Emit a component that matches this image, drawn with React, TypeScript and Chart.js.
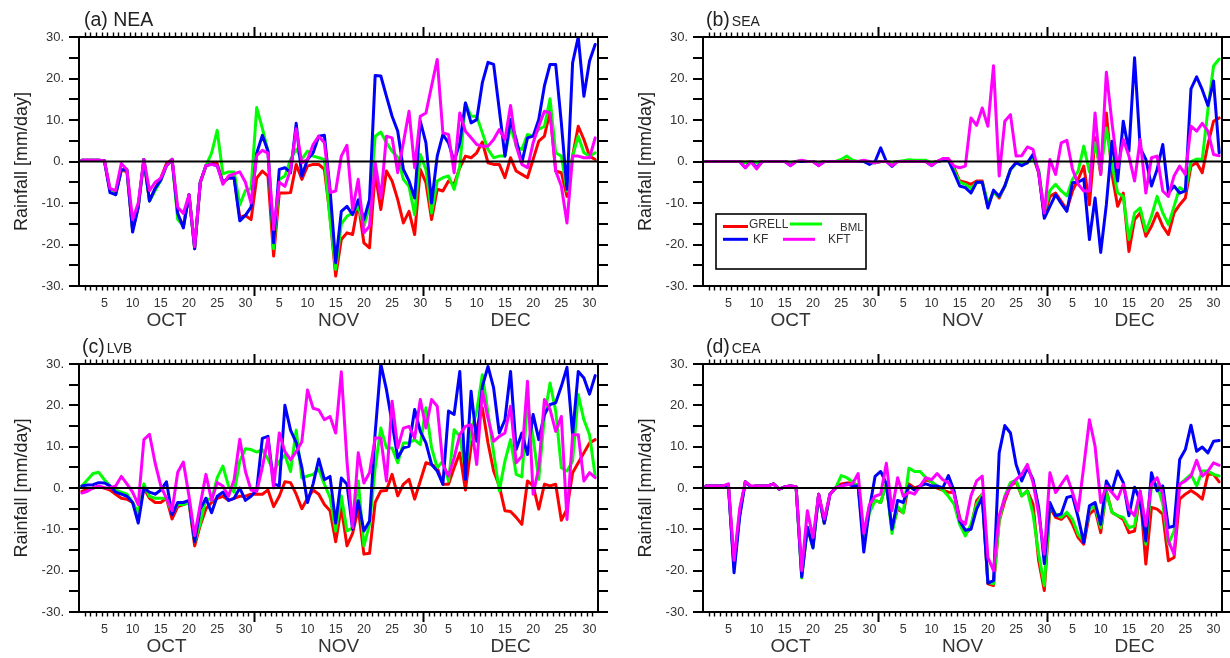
import React, { useEffect, useRef } from "react";
import { Chart, registerables } from "chart.js";

Chart.register(...registerables);

// ---------- axis / label data ----------
const months = ["OCT", "NOV", "DEC"];
const monthStart = [0, 31, 61];
const monthLength = [31, 30, 31];
const dayLabels = [5, 10, 15, 20, 25, 30];
const yTicks = [30, 20, 10, 0, -10, -20, -30];
const seriesNames = ["GRELL", "BML", "KF", "KFT"];
const seriesColors = ["#ff0000", "#00ff00", "#0000ff", "#ff00ff"];

// ---------- (a) NEA ----------
const neaGrell = [0.3,0.3,0.3,0.3,0.2, -7,-8,-2,-2.5,-16.5, -11,0.5,-9.5,-6.5,-4, -0.5,0.5,-13,-15.5,-8, -21,-5,-1,-0.5,-0.5, -5,-4,-4,-13.5,-13, -14,-4,-2.3,-3.5,-22.8, -7.6,-7.6,-7.5,-0.7,-4.3, -1.1,-0.7,-0.7,-1.9,-13.2, -27.6,-18.8,-17.2,-17.6,-10, -19.6,-20.8,-2.7,-11.6,-2.3, -4.7,-9.2,-14.8,-12,-17.6, -1.9,-5.1,-14,-6.7,-7.1, -4.7,-5.5,-1.5,1.3,0.9, 2.1,4.7,-0.3,-0.7,-0.7, -3.9,0.9,-2.3,-3.1,-3.9, 0.5,4.9,6.1,12.1,-2.3, -2.7,-8.4,1.3,8.5,5.3, 1.3,0.5];
const neaBml = [0.3,0.3,0.3,0.3,0.2, -7,-8,-2,-2,-16.5, -11,0.5,-9.5,-7,-4.5, -1,0.5,-14,-15.5,-8, -21,-5,-1,2,7.5, -3,-2.5,-2.5,-10.5,-7, -6.5,13,8,2.5,-21, -4.3,-3.5,0.5,3,0.5, 2.5,1.3,0.9,0.5,-14, -26,-15,-13.2,-12.4,-10.8, -15.6,-10.8,6.1,7.1,4.5, 2.5,1,-4.3,-6,-12.8, 1.7,-1.9,-12.4,-4.7,-3.9, -3.5,-6.7,-1.1,14.1,10.9, 10.9,6.9,2.9,0.9,1.3, 1.3,8.5,3.7,2.9,6.5, 6.1,7.7,8.5,15.1,2.1, 1.3,-7.1,1.3,6.1,2.1, 1.3,2.1];
const neaKf = [0.3,0.3,0.3,0.3,0.2, -7.5,-8,-2,-2,-17, -11,0.5,-9.5,-6.5,-4.5, -1,0.5,-12.5,-16,-8, -21,-5,-1,-0.7,-1, -5,-4,-4,-14.3,-13, -11,2,6.3,2.5,-19.6, -1.9,-1.5,-2.7,9.2,-3.5, 0.5,2.1,6.1,6.3,-6.7, -24.4,-12,-10.8,-12.8,-9.2, -14,-9.2,20.7,20.6,15.7, 10.9,7.3,-1.9,-4.7,-8.8, 9.7,4.5,-10,1.3,6.5, 4.5,0,4.5,14.1,9.3, 10.1,19,23.9,23.4,12.5, 1.3,10.1,5.3,-0.3,5.7, 6.1,10.1,18.2,23.4,23.4, 9.3,-6.7,23.8,30,15.7, 24.2,28.2];
const neaKft = [0.3,0.3,0.3,0.3,0.2, -6.5,-7,-0.5,-2,-14, -10,0.5,-7,-5,-4, -1,0.5,-11,-12.5,-8, -20.5,-5,-1,-0.7,-1, -5.5,-3.5,-3,-2.5,-5, -10,1.5,2.7,2,-16.4, -5,-6,-2,7.9,-0.3, 0.5,4.1,6.1,4.5,-7.5, -7.1,1.3,3.9,-11.6,-4.3, -17.2,-15.6,-0.3,-8.8,6.1, 5.7,-2.7,4.5,12.1,-1.5, 10.9,11.7,18.2,24.6,6.9, 6.5,-2.7,11.7,7.3,5.7, 4.1,3.7,3.7,5.3,7.7, 5.3,13.5,3.7,-0.7,-1.5, 4.5,8.5,12.1,11.7,-2.3, -5.9,-14.8,1.3,1.3,0.9, 0.9,5.7];

// ---------- (b) SEA ----------
const seaGrell = [0,0,0,0,0, 0,0,-0.2,0,-0.3, 0,0,0,0,0, -0.3,0,0,0,0, -0.3,0,0,0,0, 0.3,0,0,0,-0.2, -0.3,0,0,-0.3,0, 0,0.2,0,0,0, -0.3,0,0.3,0.3,-1.5, -4.7,-5,-5.5,-4.7,-4.7, -10.8,-7.1,-8.8,-5.9,-1.9, -0.3,-0.7,-0.3,1.3,-2.7, -13.2,-8.4,-7.6,-9.6,-11.6, -7.1,-4.3,-1.1,-10.4,5.7, -3.1,11.7,-3.1,-10.8,-7.6, -21.7,-14,-12.4,-18,-15.6, -12.4,-15.6,-17.6,-12.4,-10.4, -8.8,-1.1,-0.3,-2.7,4.1, 9.7,10.5];
const seaBml = [0,0,0,0,0, 0,0,-0.3,0,-0.3, 0,0,0,0,0, -0.5,0,0.2,0,0, -0.5,0,0,0,0.5, 1.3,0.3,0,0.2,-0.3, -0.3,0,0,-0.3,0, 0.2,0.4,0.3,0.3,0.3, -0.3,0,0.3,0.3,-2, -5,-5.5,-6.5,-5,-5, -10,-7.5,-8.5,-6,-2, -0.5,-0.5,-0.3,0.8,-2, -12,-7,-5.5,-7.1,-8.3, -4.3,-2.3,3.7,-2.5,4.5, -2.3,8.1,-0.7,-7.6,-8.4, -18.8,-12.4,-11.2,-16.8,-13.2, -8.4,-12.4,-15.2,-10.8,-6.3, -7.1,0,0.6,0.5,12.5, 23,24.7];
const seaKf = [0,0,0,0,0, 0,0,-1.5,0,-1.5, 0,0,0,0,0, -1,0,0,0,0, -1,0,0,0,0, 0,0,0,0,-0.7, 0,3.3,0,-1.2,0, 0,0,0,0,0, -1,0,0.3,0.3,-2.7, -5.9,-6.3,-7.6,-5,-5, -11.2,-6.9,-8.4,-5.9,-1.9, -0.3,-1,-0.3,1.7,-2.5, -13.7,-10.8,-8,-10.1,-12, -5.1,-5,-4.2,-18.8,-8.8, -21.9,-10.4,4.9,-4.7,9.7, 2.5,25,3.3,0.5,-5.9, -1.9,4.1,-7.6,-5.9,-7.6, -7.1,17.5,20.4,17.3,13.5, 19.4,2.1];
const seaKft = [0,0,0,0,0, 0,0,-1.5,0,-1.8, 0,0,0,0,0, -1,0,0.3,0,0, -1,0,0,0,0, 0,0,0,0.3,0, -0.3,0,0,-1,0, 0,0,0,0,0, -1,0,0.7,0.7,-1.1, -1.5,-1.1,10.5,8.7,12.9, 8.5,23.1,-3.5,9.7,11.3, 1.3,1.4,3.5,2.9,-2.7, -12.4,0.5,-3.1,4.5,5.1, -1.9,-5.5,-7.1,-7.1,11.7, -3.1,21.5,9.3,-1.5,5.3, 1.3,-4.7,5.3,-7.6,0.9, 1.3,-7.1,-8.4,-3.5,-1.1, -3.1,8.5,7.3,9.2,7.3, 1.7,1.4];

// ---------- (c) LVB ----------
const lvbGrell = [-0.8,-0.3,0,0.3,0, -0.5,-1.5,-2.5,-2.7,-3.5, -6.5,0,-2.5,-3.5,-3.5, -2.5,-7.5,-4.5,-4,-3.5, -14,-9,-5,-3.5,-2.5, -2,-3,-2.5,-2,-2, -1.5,-1.5,-1.5,-0.5,-4.5, -2,1.5,1.3,-1.5,-5, -2.5,-0.5,-1.5,-4,-5.5, -13,-4.7,-14,-11,-5, -16,-15.8,-3.5,-0.7,-0.6, 3.3,-1.9,0.9,2.1,-2.7, 1.7,6.1,5.7,4.9,0.9, 0.9,4.9,8.5,-0.5,10.1, 14.5,19.4,10.9,4.1,0.5, -5.5,-5.7,-7.1,-8.8,1.7, 0.5,-5.1,0.9,0.5,0.9, -7.8,-5.1,3.7,6.1,8.5, 10.9,11.7];
const lvbBml = [0.5,2,3.5,3.8,2, 0.5,-0.5,-1,-1.5,-3.5, -6,1,-2,-2.5,-2.5, -2.5,-6,-4,-4,-3.5, -13,-8.5,-2.5,-3,2.5, 5.3,0.5,-1,6.5,9.5, 9.3,8.7,9.3,7,4, 6.4,8,4,14,2.4, 2.9,3.3,4.5,0.9,-2.3, -10.4,-1.9,-10.4,-9.6,1.7, -14,-8.8,4.9,14.5,9.7, 9.7,6.1,10.9,10.9,11.7, 10.5,19.4,9.7,4.9,6.5, 1.7,14.1,12.5,4.1,13.7, 18.6,27.4,18.2,8.5,-0.7, 6.5,11.7,3.3,2.7,20.6, 12.1,2.1,17.3,25.4,18.6, 4.9,4.1,6.5,22.6,16.5, 12.9,2.9];
const lvbKf = [0.5,0.7,0.8,1.3,1.2, 0.5,-1,-1.5,-2,-3.5, -8.5,0,-1,-1.5,-0.5, 1.5,-6.5,-3.5,-3.5,-3, -13,-5,-2.5,-6,-2, -1,-3,-2.5,0,-3, -2,-0.5,12,12.5,1, 0.5,20,14,11,5, -3.5,1,7,2,2.8, -8.5,2.4,0.9,-10,-3.1, -10.4,-8,13.3,30,23.8, 15.7,7.3,9.7,10.1,19, 13.7,10.9,5.7,4.1,0.9, 18.6,17.8,28.2,2.1,23.4, 11.3,24.6,29.4,24.2,13.3, 16.5,28.2,9.3,13.3,8.1, 17.8,11.7,17.8,20.2,20.6, 24.6,29.2,12.9,28.2,26.6, 22.7,27.2];
const lvbKft = [-1.2,-0.8,0,0.5,0, 0,0.5,2.8,1,-1, -4,11.7,13,6,0.5, -2.5,-5.5,3.8,6.3,-2, -11.5,-4,3.3,-3,1.3, 0.5,-2,2,11.8,4, -0.5,-0.8,5,12,0, 13.3,8.8,6.8,8.8,11.2, 23.7,19.3,18.9,16.5,17.3, 13.3,28.1,6.5,-9.6,8.5, 1.2,3.7,12.1,12.1,1.7, 21,9.7,14.5,14.9,12.1, 21.4,14.5,21.4,19.8,5.7, 2.9,7.3,12.9,14.9,15.3, 5.7,23.4,16.9,11.3,12.5, 13.3,19.8,6.1,7.7,25.8, -1.5,4.9,21.4,19,13.7, 17.3,-7.6,12.9,12.9,1.7, 3.7,2.5];

// ---------- (d) CEA ----------
const ceaGrell = [0.5,0.5,0.5,0.5,0.7, -19,-6,1.5,0.3,0.5, 0.5,0.5,1,-0.3,0.3, 0.5,0.3,-21,-9.5,-14, -1.5,-8.5,-1.5,0,1, 1.2,1.3,0.5,-12,-4.5, -3,-3.5,1,-10,-5, -6,1,0,0.5,2, 1.5,0,-0.5,-1,-1.1, -7.1,-11.2,-9.6,-3.1,-1.5, -23.2,-23.6,-8,-3.1,0.5, 1.5,-1.9,-0.7,-3.9,-17.6, -24.8,-4.7,-7.1,-7.6,-6.3, -8.8,-12,-13.6,-6.3,-5.1, -10.8,-0.7,-5.9,-6.7,-7.6, -10.8,-10.4,-1.5,-18.4,-4.7, -5.1,-6.3,-17.6,-16.8,-2.7, -1.5,-0.6,-1.5,-2.7,3.3, 3.3,1.5];
const ceaBml = [0.5,0.5,0.5,0.5,0.7, -19,-6.5,1.5,0.3,0.5, 0.5,0.5,1,-0.3,0.3, 0.5,0.3,-21.8,-9.5,-14.5, -1.5,-8.5,-1.5,0,3, 2.5,1.5,0.5,-13,-6, -3,-3.5,1,-11,-4.5, -6,4.8,4,4,2.5, 1.5,0.5,-0.5,-2,-3.9, -8.8,-11.6,-8.8,-3.9,-1.5, -22.8,-23.2,-8,-1.9,1.3, 1.9,-1.9,-0.7,-6.3,-16, -23.6,-3.9,-6.3,-7.1,-5.9, -7.6,-11.2,-12.8,-5.1,-4.3, -9.6,-1.1,-5.9,-6.7,-7.1, -9.6,-9.2,-0.7,-13.6,0.5, 0.9,-3.9,-13.6,-10.4,0.9, 2.1,3.3,0.5,4.1,4.1, 3.3,2.9];
const ceaKf = [0.5,0.5,0.5,0.5,0.7, -20.5,-7,1.5,0.3,0.5, 0.5,0.5,1,-0.3,0.3, 0.5,0.3,-21.5,-9.5,-14.5, -1.5,-8.5,-1.5,0,0.5, 1,0.5,0.5,-15.5,-5, 2.8,4,1,-10,-3, -3.5,0.5,-0.5,0.5,1, 0.5,0.5,0,3,-0.7, -8,-10.2,-10,-5.1,-2.3, -23,-22.4,8.5,15.1,13.3, 5.7,1.7,4.9,2.1,-4.7, -18.3,-3.5,-6.7,-6.3,-2.3, -1.9,-7.1,-13.2,-4.3,-3.5, -8.8,1.7,-0.7,4.1,1.3, -6.7,0.2,-3.1,-12.8,3.7, -0.7,0.5,-9.6,-9.2,6.9, 9.3,15.2,8.9,9.9,8.5, 11.3,11.5];
const ceaKft = [0.5,0.5,0.5,0.5,1, -17.5,-5,1.5,0.5,0.5, 0.5,0.5,1,-0.3,0.3, 0.5,0.3,-20,-5.5,-12, -1.5,-7.5,-1.5,0,0.5, 0.8,1,3.5,-11,-4, -2,-1.5,6,-5.5,2.5, -2,-1,-1.5,0.5,2.5, 2,3.5,2,1.3,-1.5, -7.6,-8.8,-1.9,1.7,2.9, -16.8,-20,-6.7,-2.3,0.5, 2.1,3.3,5.7,1.3,-6.3, -16,3.7,-1.1,0.9,2.9, -1.1,-5.5,5.3,16.5,10.1, -3.5,0.5,-1.1,-2.7,0.9, -5.1,-6.7,-0.7,-9.2,0.9, 2.5,-1.5,-12.8,-16,0.9, 1.7,2.9,6.7,2.9,4.1, 6.1,5.5];

// ---------- presentation ----------
const FONT = '"Liberation Sans", Arial, Helvetica, sans-serif';
const CANVAS_W = 615;
const CANVAS_H = 329;

const panels = [
  { tag: "(a)", region: "NEA", bigRegion: true, series: [neaGrell, neaBml, neaKf, neaKft], legend: false, x: 0, y: 0, pad: { left: 79, right: 17, top: 37, bottom: 43 } },
  { tag: "(b)", region: "SEA", bigRegion: false, series: [seaGrell, seaBml, seaKf, seaKft], legend: true, x: 615, y: 0, pad: { left: 88, right: 8, top: 37, bottom: 43 } },
  { tag: "(c)", region: "LVB", bigRegion: false, series: [lvbGrell, lvbBml, lvbKf, lvbKft], legend: false, x: 0, y: 329, pad: { left: 79, right: 17, top: 35, bottom: 46 } },
  { tag: "(d)", region: "CEA", bigRegion: false, series: [ceaGrell, ceaBml, ceaKf, ceaKft], legend: false, x: 615, y: 329, pad: { left: 88, right: 8, top: 35, bottom: 46 } },
];

function line(ctx: CanvasRenderingContext2D, x1: number, y1: number, x2: number, y2: number) {
  ctx.beginPath();
  ctx.moveTo(x1, y1);
  ctx.lineTo(x2, y2);
  ctx.stroke();
}

function makePlugin(p: any) {
  return {
    id: "ncl" + p.region,
    afterDatasetsDraw(chart: any) {
      const { ctx, chartArea: ca, scales } = chart;
      const y0 = scales.y.getPixelForValue(0);
      ctx.save();
      ctx.strokeStyle = "#000";
      ctx.lineWidth = 2.2;
      line(ctx, ca.left, y0, ca.right, y0);
      ctx.restore();
    },
    afterDraw(chart: any) {
      const { ctx, chartArea: ca, scales } = chart;
      const xs = scales.x;
      const ys = scales.y;
      ctx.save();
      ctx.strokeStyle = "#000";
      ctx.lineCap = "butt";

      // x ticks (top & bottom)
      for (let d = 1; d < 92; d++) {
        const px = Math.round(xs.getPixelForValue(d)) + 0.5;
        const major = monthStart.includes(d);
        ctx.lineWidth = major ? 2 : 1.4;
        const len = major ? 10 : 4.5;
        line(ctx, px, ca.top, px, ca.top - len);
        line(ctx, px, ca.bottom, px, ca.bottom + len);
      }
      // y ticks (left & right)
      ctx.lineWidth = 2;
      for (let v = -30; v <= 30; v += 5) {
        const py = Math.round(ys.getPixelForValue(v));
        line(ctx, ca.left - 10, py, ca.left, py);
        line(ctx, ca.right, py, ca.right + 10, py);
      }
      // frame
      ctx.lineWidth = 2;
      ctx.strokeRect(ca.left, ca.top, ca.right - ca.left, ca.bottom - ca.top);

      // y tick labels
      ctx.fillStyle = "#333";
      ctx.font = `13px ${FONT}`;
      ctx.textAlign = "right";
      ctx.textBaseline = "middle";
      yTicks.forEach((v) => {
        ctx.fillText(`${v}.`, ca.left - 15, ys.getPixelForValue(v));
      });

      // x day labels
      ctx.font = `12.5px ${FONT}`;
      ctx.textAlign = "center";
      months.forEach((m, mi) => {
        dayLabels.forEach((d) => {
          if (d > monthLength[mi]) return;
          const xv = monthStart[mi] + d - 0.5;
          ctx.fillText(String(d), xs.getPixelForValue(xv), ca.bottom + 18);
        });
      });
      // month labels
      ctx.font = `19px ${FONT}`;
      months.forEach((m, mi) => {
        const xv = monthStart[mi] + monthLength[mi] / 2;
        ctx.fillText(m, xs.getPixelForValue(xv), ca.bottom + 35);
      });

      // y axis title
      ctx.save();
      ctx.translate(ca.left - 57, (ca.top + ca.bottom) / 2);
      ctx.rotate(-Math.PI / 2);
      ctx.font = `18px ${FONT}`;
      ctx.fillStyle = "#222";
      ctx.textAlign = "center";
      ctx.textBaseline = "middle";
      ctx.fillText("Rainfall [mm/day]", 0, 0);
      ctx.restore();

      // panel title
      ctx.fillStyle = "#222";
      ctx.textAlign = "left";
      ctx.textBaseline = "alphabetic";
      ctx.font = `19.5px ${FONT}`;
      const tx = ca.left + (p.bigRegion ? 5 : 3);
      const ty = ca.top - 11;
      if (p.bigRegion) {
        ctx.fillText(`${p.tag} ${p.region}`, tx, ty);
      } else {
        ctx.fillText(p.tag, tx, ty);
        const w = ctx.measureText(p.tag).width;
        ctx.font = `14px ${FONT}`;
        ctx.fillText(p.region, tx + w + 2, ty);
      }

      // legend
      if (p.legend) {
        const L = ca.left;
        const T = ca.top;
        ctx.strokeStyle = "#000";
        ctx.lineWidth = 1.6;
        ctx.strokeRect(L + 13, T + 177, 150, 55);
        const items = [
          { c: 0, x1: 20, x2: 45, y: 189.5, tx: 46, ty: 188, fs: 12 },
          { c: 1, x1: 87, x2: 119, y: 187, tx: 137, ty: 190.5, fs: 11.5 },
          { c: 2, x1: 20, x2: 45, y: 202.3, tx: 50, ty: 202.3, fs: 12 },
          { c: 3, x1: 80, x2: 112, y: 202.3, tx: 125, ty: 202.3, fs: 12 },
        ];
        items.forEach((it) => {
          ctx.strokeStyle = seriesColors[it.c];
          ctx.lineWidth = 3;
          line(ctx, L + it.x1, T + it.y, L + it.x2, T + it.y);
          ctx.fillStyle = "#333";
          ctx.font = `${it.fs}px ${FONT}`;
          ctx.textAlign = "left";
          ctx.textBaseline = "middle";
          ctx.fillText(seriesNames[it.c], L + it.tx, T + it.ty);
        });
      }
      ctx.restore();
    },
  };
}

function Panel({ p }: { p: any }) {
  const ref = useRef<HTMLCanvasElement | null>(null);
  useEffect(() => {
    if (!ref.current) return;
    const datasets = p.series.map((arr: number[], si: number) => ({
      label: seriesNames[si],
      data: arr.map((v, i) => ({ x: i + 0.5, y: v })),
      borderColor: seriesColors[si],
      backgroundColor: seriesColors[si],
      borderWidth: 3,
      borderJoinStyle: "round",
      borderCapStyle: "round",
      pointRadius: 0,
      tension: 0,
      fill: false,
      order: 4 - si,
    }));
    const chart = new Chart(ref.current, {
      type: "line",
      data: { datasets },
      options: {
        animation: false,
        responsive: false,
        maintainAspectRatio: false,
        layout: { padding: p.pad },
        plugins: { legend: { display: false }, tooltip: { enabled: false } },
        scales: {
          x: { type: "linear", min: 0, max: 92, display: false },
          y: { type: "linear", min: -30, max: 30, display: false },
        },
      },
      plugins: [makePlugin(p)],
    } as any);
    return () => chart.destroy();
  }, [p]);
  return (
    <canvas
      ref={ref}
      width={CANVAS_W}
      height={CANVAS_H}
      style={{ position: "absolute", left: p.x, top: p.y, width: CANVAS_W, height: CANVAS_H }}
    />
  );
}

export default function App() {
  return (
    <div style={{ position: "absolute", left: 0, top: 0, width: 1230, height: 658, background: "#fff" }}>
      {panels.map((p) => (
        <Panel key={p.region} p={p} />
      ))}
    </div>
  );
}
